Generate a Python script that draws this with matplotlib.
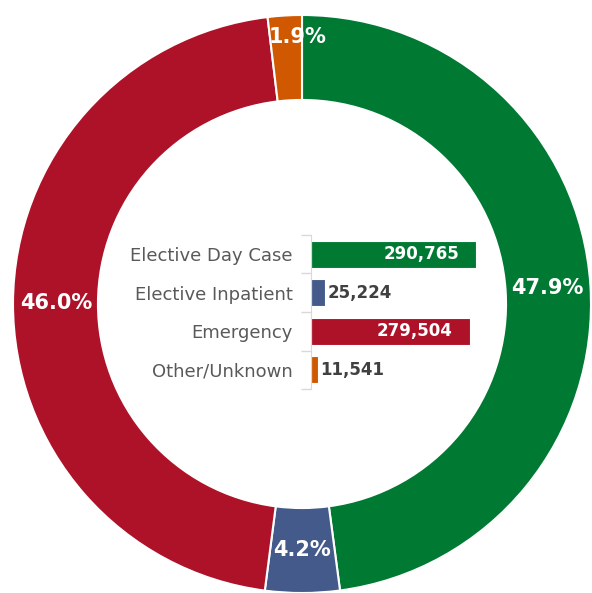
import numpy as np
import matplotlib.pyplot as plt

categories = ['Elective Day Case', 'Elective Inpatient', 'Emergency', 'Other/Unknown']
counts = [290765, 25224, 279504, 11541]
colors = ['#007A33', '#445A8B', '#AE1228', '#CF5800']

W, H = 592, 593
fig = plt.figure(figsize=(W / 100, H / 100), dpi=100)

# donut, axes in pixel units
ax = fig.add_axes([0, 0, 1, 1])
ax.set_xlim(0, W)
ax.set_ylim(0, H)
ax.set_aspect('equal')
ax.axis('off')

cx, cy = 302, H - 304
R = 289
wedges, texts, autotexts = ax.pie(
    counts, colors=colors, startangle=90, counterclock=False,
    center=(cx, cy), radius=R, autopct='%1.1f%%', pctdistance=0.85,
    wedgeprops=dict(width=R * 0.294, edgecolor='white', linewidth=1.5),
    textprops=dict(color='white', fontsize=15, fontweight='bold'))
ax.set_xlim(0, W)
ax.set_ylim(0, H)

# the small slice label sits nearer the outer edge
autotexts[3].set_position((cx - 4, cy + 267))

# bar chart in the hole
bx = fig.add_axes([311 / W, (H - 389) / H, 200 / W, 154 / H])
bx.patch.set_alpha(0)
y = np.arange(len(categories))
bars = bx.barh(y, counts, height=0.7, color=colors, edgecolor='white', linewidth=0.8)
bx.set_xlim(0, 200 / 165 * max(counts))
bx.set_ylim(3.5, -0.5)
bx.set_yticks(y)
bx.set_yticklabels(categories, fontsize=13, color='#595959')
bx.set_yticks(np.arange(-0.5, 4, 1), minor=True)
bx.tick_params(axis='y', which='major', length=0, pad=13)
bx.tick_params(axis='y', which='minor', length=7, color='#D9D9D9', width=1)
bx.set_xticks([])
for s in ['top', 'right', 'bottom']:
    bx.spines[s].set_visible(False)
bx.spines['left'].set_color('#D9D9D9')

for i, v in enumerate(counts):
    lbl = f'{v:,}'
    if v > 100000:
        bx.annotate(lbl, (v, i), xytext=(-12, 0), textcoords='offset points',
                    ha='right', va='center', color='white', fontsize=12, fontweight='bold')
    else:
        bx.annotate(lbl, (v, i), xytext=(2, 0), textcoords='offset points',
                    ha='left', va='center', color='#404040', fontsize=12, fontweight='bold')

fig.savefig('out.png', dpi=100)
